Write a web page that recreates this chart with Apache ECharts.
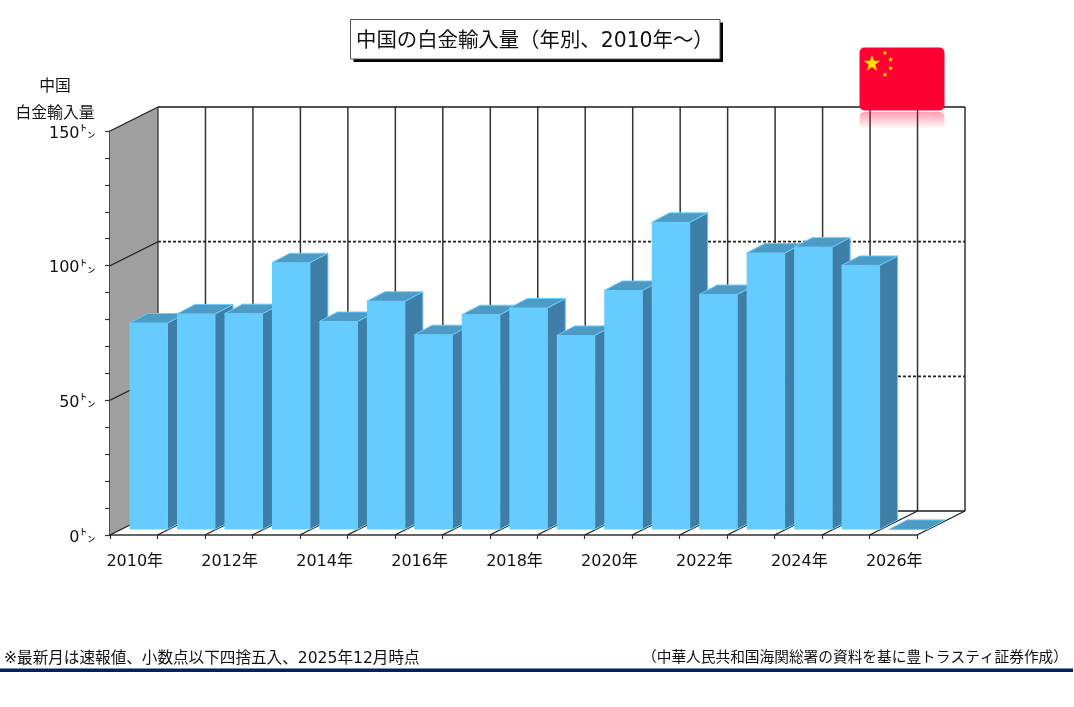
<!DOCTYPE html>
<html lang="ja"><head><meta charset="utf-8">
<style>html,body{margin:0;padding:0;background:#fff}#c{width:1074px;height:707px}</style>
<script src="https://cdn.jsdelivr.net/npm/echarts@6/dist/echarts.min.js"></script>
</head><body><div id="c"></div>
<script>
const years = ['2010年','2011年','2012年','2013年','2014年','2015年','2016年','2017年','2018年','2019年','2020年','2021年','2022年','2023年','2024年','2025年','2026年'];
const imports = [76.6,80,80.1,99,77.2,84.7,72.3,79.7,82.2,72,88.7,114,87.2,102.6,104.8,98,0];
const titleText = '中国の白金輸入量（年別、2010年～）';
const axisTitle = '中国\n白金輸入量';
const noteLeft = '※最新月は速報値、小数点以下四捨五入、2025年12月時点';
const noteRight = '（中華人民共和国海関総署の資料を基に豊トラスティ証券作成）';

const FONT = '"DejaVu Sans","Noto Sans CJK JP",sans-serif';
const DX = 48, DY = -24;            // depth of the box
const BAR_W = 38, BAR_DX = 18, BAR_DY = -9.5, BAR_SHIFT = -4.2, BAR_LIFT = -5.6;

function star(cx, cy, r) {
  const pts = [];
  for (let i = 0; i < 10; i++) {
    const a = -Math.PI / 2 + i * Math.PI / 5, q = i % 2 ? r * 0.382 : r;
    pts.push([cx + q * Math.cos(a), cy + q * Math.sin(a)]);
  }
  return { type: 'polygon', shape: { points: pts }, style: { fill: '#FFE000' }, z: 102, silent: true };
}

function renderFrame(params, api) {
  const band = api.size([1, 0])[0];
  const n = years.length;
  const x0 = api.coord([0, 0])[0] - band / 2;
  const x1 = x0 + band * n;
  const yAt = v => api.coord([0, v])[1];
  const line = (a, b, style) => ({ type: 'line', shape: { x1: a[0], y1: a[1], x2: b[0], y2: b[1] },
    style: Object.assign({ stroke: '#1a1a1a', lineWidth: 1.2 }, style) });
  const kids = [];
  kids.push({ type: 'polygon', shape: { points: [[x0, yAt(150)], [x0 + DX, yAt(150) + DY], [x0 + DX, yAt(0) + DY], [x0, yAt(0)]] },
    style: { fill: '#9F9F9F' } });
  for (let i = 1; i <= n; i++) {
    const x = x0 + band * i + DX;
    kids.push(line([x, yAt(150) + DY], [x, yAt(0) + DY], { stroke: '#333', lineWidth: 1.5 }));
  }
  kids.push(line([x0 + DX, yAt(150) + DY], [x0 + DX, yAt(0) + DY], { stroke: '#333', lineWidth: 1.3 }));
  [50, 100].forEach(v => {
    kids.push(line([x0 + DX, yAt(v) + DY], [x1 + DX, yAt(v) + DY], { lineDash: [3, 2], stroke: '#222', lineWidth: 1.6 }));
    kids.push(line([x0, yAt(v)], [x0 + DX, yAt(v) + DY]));
  });
  kids.push(line([x0, yAt(150)], [x0 + DX, yAt(150) + DY]));
  kids.push(line([x0 + DX, yAt(150) + DY], [x1 + DX, yAt(150) + DY], { lineWidth: 1.4 }));
  kids.push(line([x0 + DX, yAt(0) + DY], [x1 + DX, yAt(0) + DY], { lineWidth: 1.4 }));
  for (let i = 0; i <= n; i++) {
    const x = x0 + band * i;
    kids.push(line([x, yAt(0)], [x + DX, yAt(0) + DY]));
  }
  return { type: 'group', children: kids, silent: true };
}

function renderBar(params, api) {
  const cat = api.value(0), val = api.value(1);
  const top = api.coord([cat, val]), base = api.coord([cat, 0]);
  const xl = base[0] + BAR_SHIFT, xr = xl + BAR_W;
  const yb = base[1] + BAR_LIFT, yt = top[1] + BAR_LIFT;
  const edge = '#66CCFF';
  const kids = [];
  if (val > 0) {
    kids.push({ type: 'rect', shape: { x: xl, y: yt, width: BAR_W, height: yb - yt }, style: { fill: edge } });
    kids.push({ type: 'polygon', shape: { points: [[xr, yt], [xr + BAR_DX, yt + BAR_DY], [xr + BAR_DX, yb + BAR_DY], [xr, yb]] },
      style: { fill: '#3F7EA6', stroke: edge, lineWidth: 1 } });
  }
  kids.push({ type: 'polygon', shape: { points: [[xl, yt], [xl + BAR_DX, yt + BAR_DY], [xr + BAR_DX, yt + BAR_DY], [xr, yt]] },
    style: { fill: '#4D9AC4', stroke: edge, lineWidth: 1 } });
  return { type: 'group', children: kids };
}

const chart = echarts.init(document.getElementById('c'), null, { renderer: 'canvas' });
chart.setOption({
  animation: false,
  backgroundColor: '#fff',
  textStyle: { fontFamily: FONT },
  title: {
    text: titleText, left: 356, top: 32, padding: 0,
    textStyle: { fontFamily: FONT, fontSize: 20.4, fontWeight: 'normal', color: '#111' }
  },
  grid: { left: 110, right: 157, top: 131, bottom: 172, containLabel: false },
  xAxis: {
    type: 'category', data: years,
    axisLine: { lineStyle: { color: '#333', width: 1.5 } },
    axisTick: { show: true, length: 4, interval: 0, lineStyle: { color: '#333', width: 1.2 } },
    axisLabel: { interval: 1, fontSize: 16, color: '#111', margin: 19, padding: [0, 0, 0, 2], fontFamily: FONT }
  },
  yAxis: {
    type: 'value', min: 0, max: 150, interval: 50,
    name: axisTitle, nameLocation: 'end', nameGap: 4, nameMoveOverlap: false,
    nameTextStyle: { fontFamily: FONT, fontSize: 15.8, color: '#111', align: 'center', lineHeight: 27, padding: [0, 110, 0, 0] },
    axisLine: { show: true, lineStyle: { color: '#111', width: 1.5 } },
    axisTick: { show: true, length: 5, lineStyle: { color: '#333', width: 1.2 } },
    minorTick: { show: true, splitNumber: 5, length: 5, lineStyle: { color: '#333', width: 1.2 } },
    splitLine: { show: false },
    minorSplitLine: { show: false },
    axisLabel: {
      margin: 14.5, color: '#111', fontFamily: FONT, padding: [5, 0, 0, 0],
      formatter: v => '{v|' + v + '}{u|㌧}',
      rich: { v: { fontSize: 16, color: '#111', fontFamily: FONT }, u: { fontSize: 16, color: '#111', fontFamily: '"Noto Sans CJK JP"', padding: [0, 0, 5, 0] } }
    }
  },
  series: [
    { type: 'custom', name: 'frame', coordinateSystem: 'cartesian2d', z: 1, silent: true,
      data: [[0, 0]], encode: { x: 0, y: 1 }, clip: false, renderItem: renderFrame },
    { type: 'custom', name: '中国白金輸入量', coordinateSystem: 'cartesian2d', z: 5, silent: true, clip: false,
      data: imports.map((v, i) => [i, v]), encode: { x: 0, y: 1 }, renderItem: renderBar }
  ],
  graphic: [
    { type: 'rect', shape: { x: 353.5, y: 22.5, width: 369.5, height: 39.5 }, style: { fill: '#000' }, z: 1, silent: true },
    { type: 'rect', shape: { x: 350.5, y: 19.5, width: 369.5, height: 39.5 }, style: { fill: '#fff', stroke: '#555', lineWidth: 1 }, z: 2, silent: true },
    { type: 'rect', shape: { x: 859.5, y: 47.5, width: 85, height: 63, r: 5 }, style: { fill: '#FF0033' }, z: 100, silent: true },
    { type: 'rect', shape: { x: 859.5, y: 112, width: 85, height: 17, r: [5, 5, 0, 0] }, z: 100, silent: true,
      style: { fill: new echarts.graphic.LinearGradient(0, 0, 0, 1, [{ offset: 0, color: 'rgba(255,0,51,0.38)' }, { offset: 1, color: 'rgba(255,0,51,0)' }]) } },
    star(872, 63.5, 9), star(885, 53, 2.8), star(890.7, 59.7, 2.8), star(890.7, 68.3, 2.8), star(885, 74.7, 2.8),
    { type: 'text', left: 4, top: 651, z: 100, silent: true, style: { text: noteLeft, font: '15.6px ' + FONT, fill: '#111' } },
    { type: 'text', right: 6, top: 651, z: 100, silent: true, style: { text: noteRight, font: '14.7px ' + FONT, fill: '#111', textAlign: 'right' } },
    { type: 'rect', shape: { x: 0, y: 668.5, width: 1073, height: 3.5 }, style: { fill: '#002060' }, z: 100, silent: true }
  ]
});
</script></body></html>
